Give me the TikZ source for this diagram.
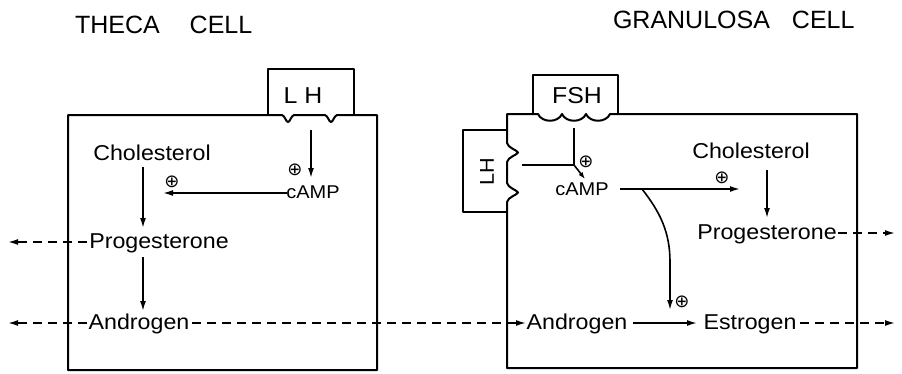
\documentclass[tikz,border=0pt]{standalone}
\usepackage{fontspec}
\setmainfont{Liberation Sans}[FakeStretch=1.08]
\newfontfamily\titlefont{Liberation Sans}
\newfontfamily\symfont{DejaVu Sans}
\usetikzlibrary{arrows.meta}
\begin{document}
\begin{tikzpicture}[x=1pt,y=-1pt,
  every node/.style={inner sep=0pt, outer sep=0pt},
  lbl/.style={font=\fontsize{21.5}{21.5}\selectfont, anchor=base},
  smalllbl/.style={font=\fontsize{18.5}{18.5}\selectfont, anchor=base},
  hormone/.style={font=\fontsize{23}{23}\selectfont, anchor=base},
  ttl/.style={font=\titlefont\fontsize{25}{25}\selectfont, anchor=base west},
  pm/.style={font=\symfont\fontsize{18}{18}\selectfont},
  wall/.style={line width=2pt, line join=round},
  plain/.style={line width=1.6pt},
  arr/.style={line width=1.6pt, -{Latex[length=10pt,width=6pt]}},
  sarr/.style={line width=1.6pt, -{Latex[length=7pt,width=5pt]}},
  darr/.style={arr, dash pattern=on 9pt off 6pt},
]
\useasboundingbox (0,0) rectangle (902,373);

% titles
\node[ttl] (t1) at (75,33) {THECA\hspace{30pt}CELL};
\node[ttl] (t2) at (613,28) {GRANULOSA\hspace{22pt}CELL};

% ---------- theca cell ----------
\draw[wall] (68,370) -- (68,115) -- (282,115)
  .. controls (285,116) and (286,122) .. (288,122)
  .. controls (290,122) and (291,116) .. (294,115)
  -- (325,115)
  .. controls (328,116) and (329,122) .. (331,122)
  .. controls (333,122) and (334,116) .. (337,115)
  -- (377,115) -- (377,370) -- cycle;
\draw[wall] (268,115) -- (268,69) -- (354,69) -- (354,115);
\node[hormone] (lh1) at (303,103) {L H};

\node[smalllbl] (camp1) at (313,198) {cAMP};
\node[lbl] (chol1) at (152,160) {Cholesterol};
\node[lbl] (prog1) at (159,248) {Progesterone};
\node[lbl] (andr1) at (139,329) {Androgen};
\node[pm] (p1) at (295,170) {⊕};
\node[pm] (p2) at (172,182) {⊕};

\coordinate (r1) at (311,130);
\coordinate (e1) at (163,193);
\coordinate (o1) at (8,242);
\coordinate (o2) at (8,323);

\draw[arr] (r1) -- ([shift={(-2,-20)}]camp1.base);
\draw[arr] ([shift={(-26,-5)}]camp1.base) -- (e1);
\draw[arr] ([shift={(-9,7)}]chol1.base) -- ([shift={(-16,-20)}]prog1.base);
\draw[arr] ([shift={(-16,9)}]prog1.base) -- ([shift={(4,-18)}]andr1.base);
\draw[darr] ([shift={(-72,-6)}]prog1.base) -- (o1);
\draw[darr] ([shift={(-52,-6)}]andr1.base) -- (o2);

% ---------- granulosa cell ----------
\draw[wall] (507,368) -- (507,202)
  .. controls (508,197) and (517,195) .. (518,192.5)
  .. controls (517,190) and (508,188) .. (507,183)
  -- (507,162)
  .. controls (508,157) and (517,155) .. (518,152.5)
  .. controls (517,150) and (508,148) .. (507,143)
  -- (507,114) -- (538,114)
  .. controls (542,123) and (558,123) .. (562,114)
  .. controls (566,123) and (582,123) .. (586,114)
  .. controls (590,123) and (606,123) .. (610,114)
  -- (857,114) -- (857,368) -- cycle;
\draw[wall] (533,114) -- (533,75) -- (618,75) -- (618,114);
\draw[wall] (507,130) -- (463,130) -- (463,212) -- (507,212);
\node[hormone] (fsh) at (577,103) {FSH};
\node[font=\fontsize{20}{20}\selectfont, rotate=90] (lh2) at (487,172) {LH};

\node[smalllbl] (camp2) at (582,195) {cAMP};
\node[lbl] (chol2) at (751,158) {Cholesterol};
\node[lbl] (prog2) at (767,239) {Progesterone};
\node[lbl] (andr2) at (577,329) {Androgen};
\node[lbl] (estr) at (750,329) {Estrogen};
\node[pm] (p3) at (586,162) {⊕};
\node[pm] (p4) at (722,178) {⊕};
\node[pm] (p5) at (682,302) {⊕};

\coordinate (r2) at (574,128);
\coordinate (r3) at (522,165);
\coordinate (j) at (574,165);
\coordinate (e2) at (740,189);
\coordinate (c2) at (642,189);
\coordinate (e3) at (670,310);
\coordinate (o3) at (895,233);
\coordinate (o4) at (895,323);

\draw[plain] (r2) -- (j);
\draw[plain] (r3) -- (j);
\draw[sarr] (j) -- ([shift={(3,-16)}]camp2.base);
\draw[arr] ([shift={(38,-6)}]camp2.base) -- (e2);
\draw[arr] (c2) .. controls (660,212) and (670,232) .. (670,262) -- (e3);
\draw[arr] ([shift={(16,12)}]chol2.base) -- ([shift={(0,-21)}]prog2.base);
\draw[darr] ([shift={(71,-6)}]prog2.base) -- (o3);
\draw[arr] ([shift={(56,-6)}]andr2.base) -- ([shift={(-53,-6)}]estr.base);
\draw[darr] ([shift={(50,-6)}]estr.base) -- (o4);

% androgen transfer between cells
\draw[darr] ([shift={(53,-6)}]andr1.base) -- ([shift={(-51,-6)}]andr2.base);
\end{tikzpicture}
\end{document}
